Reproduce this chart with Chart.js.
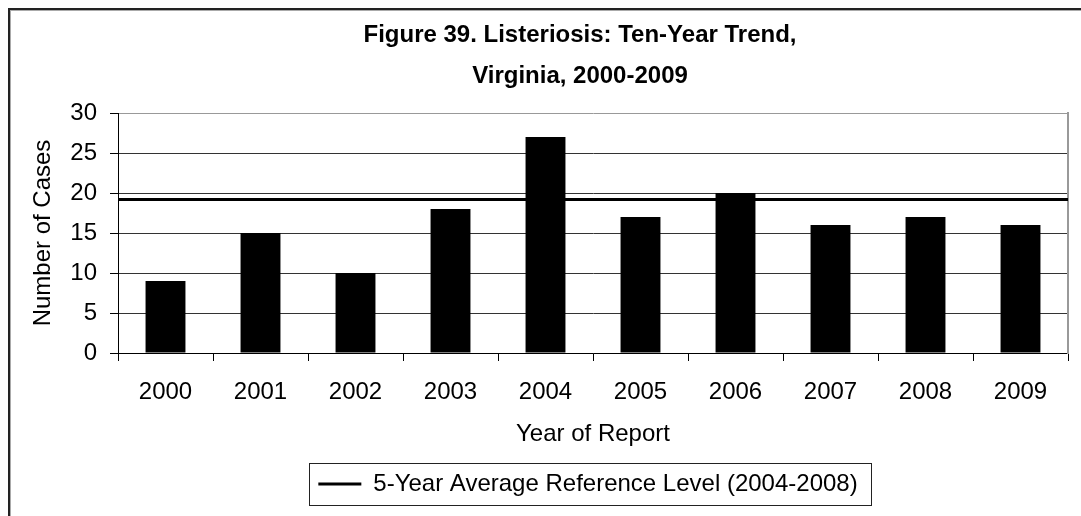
<!DOCTYPE html>
<html>
<head>
<meta charset="utf-8">
<script src="https://cdn.jsdelivr.net/npm/chart.js@4/dist/chart.umd.min.js"></script>
<style>
  html, body { margin: 0; padding: 0; background: #fff; }
  #frame {
    position: absolute; left: 8px; top: 8px; width: 1200px; height: 600px;
    border-left: 2px solid #222; border-top: 2px solid #222;
    box-shadow: inset 1px 1px 0 #aaa;
  }
  #wrap { position: absolute; left: 0; top: 0; width: 1081px; height: 516px; overflow: hidden; }
  canvas { position: absolute; left: 0; top: 0; }
</style>
</head>
<body>
<div id="wrap">
  <div id="frame"></div>
  <canvas id="chart" width="1081" height="516"></canvas>
</div>
<script>
// Listeriosis cases reported in Virginia per year
const years = ['2000', '2001', '2002', '2003', '2004', '2005', '2006', '2007', '2008', '2009'];
const cases = [9, 15, 10, 18, 27, 17, 20, 16, 17, 16];
// 5-year average reference level (2004-2008), drawn across the full plot width
const referenceLevel = [19.2, 19.2, 19.2, 19.2, 19.2, 19.2, 19.2, 19.2, 19.2, 19.2];
const yTicks = [0, 5, 10, 15, 20, 25, 30];

const titleLines = ['Figure 39. Listeriosis: Ten-Year Trend,', 'Virginia, 2000-2009'];
const yTitle = 'Number of Cases';
const xTitle = 'Year of Report';
const refLabel = '5-Year Average Reference Level (2004-2008)';

Chart.defaults.font.family = "'Liberation Sans', Arial, Helvetica, sans-serif";
Chart.defaults.color = '#000';

// Recentre the title and legend slightly left of the plot area centre
const recentre = {
  id: 'recentre',
  afterLayout(chart) {
    const a = chart.chartArea;
    if (chart.titleBlock) { chart.titleBlock.left = a.left - 26; chart.titleBlock.right = a.right; }
    if (chart.legend) { chart.legend.left = a.left - 10; chart.legend.right = a.right; }
  }
};

// Box drawn around the legend entry
const legendFrame = {
  id: 'legendFrame',
  afterDraw(chart) {
    const lg = chart.legend;
    if (!lg || !lg.legendHitBoxes || !lg.legendHitBoxes.length) return;
    const hb = lg.legendHitBoxes[0];
    const ctx = chart.ctx;
    ctx.save();
    ctx.strokeStyle = '#222';
    ctx.lineWidth = 1;
    const x0 = Math.round(hb.left - 9) + 0.5;
    const y0 = Math.round(hb.top - 9) + 0.5;
    const x1 = Math.round(hb.left + hb.width + 13) + 0.5;
    const y1 = Math.round(hb.top + hb.height + 9) + 0.5;
    ctx.strokeRect(x0, y0, x1 - x0, y1 - y0);
    ctx.restore();
  }
};

new Chart(document.getElementById('chart'), {
  data: {
    labels: years,
    datasets: [
      {
        type: 'bar',
        label: 'Cases',
        data: cases,
        backgroundColor: '#000',
        borderWidth: 0,
        grouped: false,
        barPercentage: 0.42,
        categoryPercentage: 1.0,
        xAxisID: 'x',
        yAxisID: 'y',
        order: 2
      },
      {
        type: 'line',
        label: refLabel,
        data: referenceLevel,
        borderColor: '#000',
        backgroundColor: '#000',
        borderWidth: 3,
        pointRadius: 0,
        pointHoverRadius: 0,
        pointStyle: 'line',
        fill: false,
        xAxisID: 'xl',
        yAxisID: 'y',
        order: 1
      }
    ]
  },
  options: {
    responsive: false,
    animation: false,
    devicePixelRatio: 1,
    layout: { padding: { top: 0, left: 0, right: 13, bottom: 10 } },
    plugins: {
      tooltip: { enabled: false },
      title: {
        display: true,
        text: titleLines,
        font: { size: 24, weight: 'bold', lineHeight: '41px' },
        padding: { top: 15, bottom: 16 },
        color: '#000'
      },
      legend: {
        display: true,
        position: 'bottom',
        labels: {
          filter: (item) => item.datasetIndex === 1,
          usePointStyle: true,
          pointStyleWidth: 43,
          padding: 10,
          font: { size: 24 },
          color: '#000'
        }
      }
    },
    scales: {
      x: {
        type: 'category',
        offset: true,
        grid: {
          display: true,
          offset: true,
          drawOnChartArea: false,
          drawTicks: true,
          tickLength: 8,
          color: '#000'
        },
        border: { display: true, color: '#000', width: 1 },
        ticks: { font: { size: 24 }, padding: 17, maxRotation: 0, color: '#000' },
        title: {
          display: true,
          text: xTitle,
          font: { size: 24 },
          padding: { top: 0, bottom: 13 },
          color: '#000'
        },
        afterFit(scale) { scale.height = 109; }
      },
      xl: {
        type: 'category',
        offset: false,
        display: false
      },
      y: {
        type: 'linear',
        position: 'left',
        min: 0,
        max: 30,
        afterBuildTicks(scale) { scale.ticks = yTicks.map(v => ({ value: v })); },
        grid: {
          color: (ctx) => (ctx.tick && ctx.tick.value === 30 ? '#999' : '#333'),
          tickColor: '#000',
          tickLength: 8,
          lineWidth: 1
        },
        border: { display: true, color: '#000', width: 1 },
        ticks: { font: { size: 24 }, padding: 13, color: '#000' },
        title: {
          display: true,
          text: yTitle,
          font: { size: 24 },
          padding: { top: 29, bottom: 0 },
          color: '#000'
        },
        afterFit(scale) { scale.width = 118; }
      },
      yr: {
        type: 'linear',
        position: 'right',
        min: 0,
        max: 30,
        grid: { display: false, drawTicks: false },
        ticks: { display: false },
        border: { display: true, color: '#999', width: 2 },
        afterFit(scale) { scale.width = 0; }
      }
    }
  },
  plugins: [recentre, legendFrame]
});
</script>
</body>
</html>
